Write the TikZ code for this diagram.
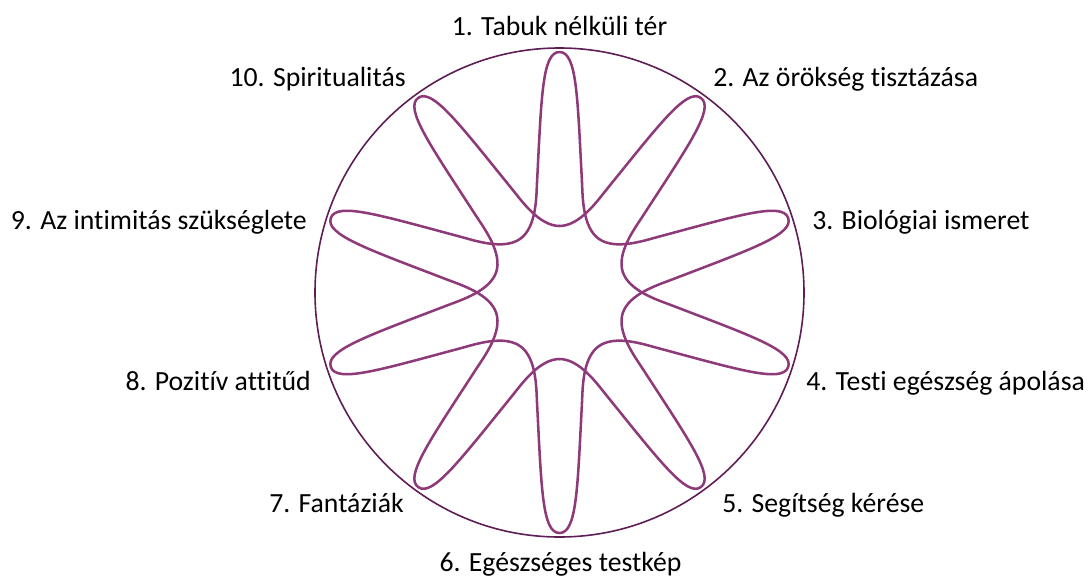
\documentclass[tikz,border=0pt]{standalone}
\usepackage{fontspec}
\setmainfont{Carlito}[Ligatures=NoCommon]
\definecolor{petalc}{RGB}{142,58,122}
\definecolor{ringc}{RGB}{94,30,84}
\begin{document}
\begin{tikzpicture}[x=0.75pt,y=-0.75pt,
  lbl/.style={font=\fontsize{20.8}{24}\selectfont, inner sep=0pt, text=black},
  petal/.style={draw=petalc, line width=1.9pt, line cap=round, line join=round},
  ring/.style={draw=ringc, line width=1.2pt}]
\useasboundingbox (0,0) rectangle (1089,578);
\draw[ring] (559.5,292.5) circle[radius=244.5];
\begin{scope}[shift={(559.5,292.5)}, yscale=-1]
\foreach \k in {0,...,9} {
  \draw[petal, rotate=-36*\k] (-39.1,53.8) .. controls (-22.9,65.6) and (-23.2,96) .. (-22.5,110)
    .. controls (-18,195) and (-17.5,240.5) .. (0,240.5)
    .. controls (17.5,240.5) and (18,195) .. (22.5,110)
    .. controls (23.2,96) and (22.9,65.6) .. (39.1,53.8);
}
\end{scope}
\node[lbl, anchor=base] (l1) at (559.5,35) {1. Tabuk nélküli tér};
\node[lbl, anchor=base west] (l2) at (713,86) {2. Az örökség tisztázása};
\node[lbl, anchor=base west] (l3) at (812,229) {3. Biológiai ismeret};
\node[lbl, anchor=base west] (l4) at (806,390) {4. Testi egészség ápolása};
\node[lbl, anchor=base west] (l5) at (722,512) {5. Segítség kérése};
\node[lbl, anchor=base] (l6) at (560.5,571) {6. Egészséges testkép};
\node[lbl, anchor=base east] (l7) at (404,512) {7. Fantáziák};
\node[lbl, anchor=base east] (l8) at (311,390) {8. Pozitív attitűd};
\node[lbl, anchor=base east] (l9) at (307,229) {9. Az intimitás szükséglete};
\node[lbl, anchor=base east] (l10) at (406,86) {10. Spiritualitás};
\end{tikzpicture}
\end{document}
